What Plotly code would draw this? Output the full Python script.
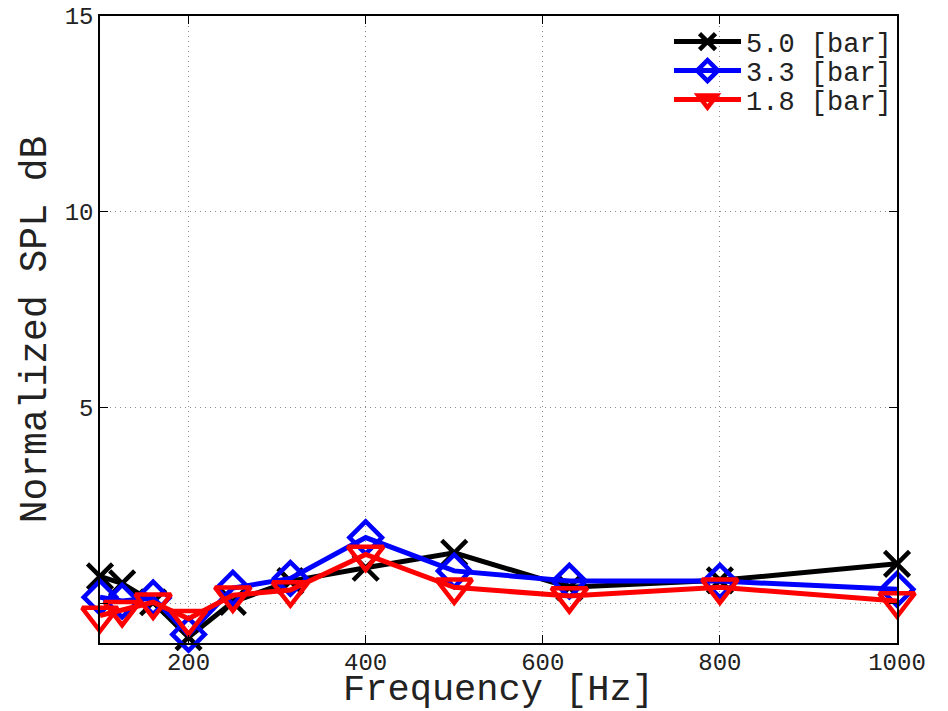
import plotly.graph_objects as go

freq = [100, 125, 160, 200, 250, 315, 400, 500, 630, 800, 1000]
spl_5_0 = [0.70, 0.52, 0.04, -0.85, 0.05, 0.58, 0.92, 1.30, 0.42, 0.60, 1.02]
spl_3_3 = [0.17, 0.07, 0.15, -0.78, 0.40, 0.65, 1.69, 0.84, 0.58, 0.58, 0.37]
spl_1_8 = [-0.30, -0.15, 0.04, -0.38, 0.22, 0.35, 1.26, 0.42, 0.20, 0.42, 0.07]

series_names = ["5.0 [bar]", "3.3 [bar]", "1.8 [bar]"]
x_ticks = [200, 400, 600, 800, 1000]
y_ticks = [0, 5, 10, 15]
y_tick_text = ["", "5", "10", "15"]

FONT = "Liberation Mono, Courier New, monospace"
TXT = "#222222"

fig = go.Figure()
styles = [
    (spl_5_0, "black", "x-thin-open", 25, "legend"),
    (spl_3_3, "#0000ff", "diamond-open", 25, "legend2"),
    (spl_1_8, "#ff0000", "triangle-down-open", 31, "legend3"),
]
for name, (vals, col, sym, sz, lg) in zip(series_names, styles):
    fig.add_trace(go.Scatter(
        x=freq, y=vals, name=name, mode="lines+markers",
        line=dict(color=col, width=5),
        marker=dict(symbol=sym, size=sz, color=col, line=dict(color=col, width=4.5)),
        cliponaxis=False, legend=lg,
    ))

axis_common = dict(
    showline=True, linecolor="black", linewidth=1.5, mirror="allticks",
    ticks="inside", ticklen=8, tickcolor="black", tickwidth=1,
    showgrid=True, gridcolor="#8a8a8a", griddash="1px,4px", gridwidth=1,
    zeroline=False, automargin=False, ticklabeloverflow="allow",
    tickfont=dict(family=FONT, size=24, color=TXT),
)

fig.update_xaxes(
    range=[100, 1000], tickvals=x_ticks, ticklabelstandoff=-4,
    title=dict(text="Frequency [Hz]", font=dict(family=FONT, size=37, color=TXT), standoff=0),
    **axis_common,
)
fig.update_yaxes(
    range=[-1, 15], tickvals=y_ticks, ticktext=y_tick_text,
    title=dict(text="Normalized SPL dB", font=dict(family=FONT, size=38, color=TXT), standoff=6),
    **axis_common,
)

plot_top, plot_h = 16, 627
item_centers = [42, 71, 100]
leg_common = dict(
    x=1.0, xanchor="right", yanchor="middle",
    bgcolor="rgba(0,0,0,0)", borderwidth=0,
    font=dict(family=FONT, size=27, color=TXT),
    itemwidth=67,
)
legends = {}
for key, yc in zip(["legend", "legend2", "legend3"], item_centers):
    legends[key] = dict(y=1 - (yc - plot_top) / plot_h, **leg_common)

fig.update_layout(
    width=948, height=711,
    margin=dict(l=100, r=51, t=16, b=68, pad=0),
    plot_bgcolor="white", paper_bgcolor="white",
    showlegend=True,
    **legends,
)

fig.write_html(
    "out.html",
    config={"displayModeBar": False},
    post_script="document.body.style.margin='0';document.body.style.overflow='hidden';",
)
